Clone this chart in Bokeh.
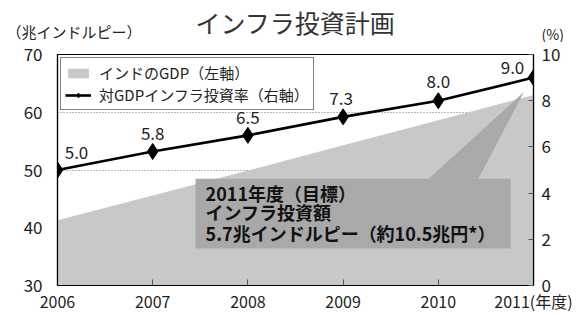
from bokeh.plotting import figure
from bokeh.layouts import column
from bokeh.models import (Range1d, LinearAxis, Label, BoxAnnotation, PolyAnnotation,
                          Legend, LegendItem, ColumnDataSource, FixedTicker)
from bokeh.embed import file_html
from bokeh.resources import INLINE
from bokeh.core.properties import value

# ---------------- data ----------------
years = [2006, 2007, 2008, 2009, 2010, 2011]
year_labels = ["2006", "2007", "2008", "2009", "2010", "2011(年度)"]
gdp = [41.3, 45.6, 49.9, 54.3, 58.6, 63.0]          # 兆インドルピー (left axis)
infra_rate = [5.0, 5.8, 6.5, 7.3, 8.0, 9.0]         # % of GDP (right axis)
rate_labels = ["5.0", "5.8", "6.5", "7.3", "8.0", "9.0"]
left_ticks = [30, 40, 50, 60, 70]
right_ticks = [0, 2, 4, 6, 8, 10]
grid_ticks = [40, 50, 60]

title_text = "インフラ投資計画"
left_unit = "（兆インドルピー）"
right_unit = "(%)"
legend_gdp = "インドのGDP（左軸）"
legend_rate = "対GDPインフラ投資率（右軸）"
callout_lines = ["2011年度（目標）", "インフラ投資額", "5.7兆インドルピー（約10.5兆円*）"]

# ---------------- styling ----------------
FONT = "Noto Sans CJK JP"
AREA = "#c8c8c8"
BOX = "#a9a9a9"
TXT = "#222222"
label_dx = [19, 0, 0, -2, 0, -21]
label_dy = [-18, -18, -18, -18, -19, -10]

W = 580
HEAD_H = 42
MAIN_H = 315 - HEAD_H

# ---------------- header (title + unit labels) ----------------
head = figure(width=W, height=HEAD_H, output_backend="svg", toolbar_location=None,
              x_range=Range1d(0, W), y_range=Range1d(HEAD_H, 0),
              x_axis_type=None, y_axis_type=None, min_border=0)
try:
    head.frame_align = False
except Exception:
    pass
head.outline_line_color = None
head.background_fill_color = "white"
head.border_fill_color = "white"
head.add_layout(Label(x=295, y=21, text=title_text, text_font=FONT, text_font_size="25px",
                      text_color="#333333", text_align="center", text_baseline="middle"))
head.add_layout(Label(x=6, y=31, text=left_unit, text_font=FONT, text_font_size="15px",
                      text_color=TXT, text_align="left", text_baseline="middle"))
head.add_layout(Label(x=541, y=33, text=right_unit, text_font=FONT, text_font_size="14px",
                      text_color=TXT, text_align="left", text_baseline="middle"))

# ---------------- main chart ----------------
p = figure(width=W, height=MAIN_H, output_backend="svg", toolbar_location=None,
           x_range=Range1d(years[0], years[-1]), y_range=Range1d(left_ticks[0], left_ticks[-1]),
           min_border_left=57, min_border_right=47, min_border_top=12, min_border_bottom=26)
try:
    p.frame_align = False
except Exception:
    pass
p.extra_y_ranges = {"pct": Range1d(right_ticks[0], right_ticks[-1])}
p.background_fill_color = "white"
p.border_fill_color = "white"
p.outline_line_color = "black"
p.outline_line_width = 1.2

p.xgrid.visible = False
p.ygrid.ticker = FixedTicker(ticks=grid_ticks)
p.ygrid.grid_line_color = "#777777"
p.ygrid.grid_line_dash = "1 2"
p.ygrid.grid_line_width = 1

ya = p.yaxis[0]
ya.ticker = FixedTicker(ticks=left_ticks)
ya.major_tick_in = 0
ya.major_tick_out = 0
ya.minor_tick_in = 0
ya.minor_tick_out = 0
ya.axis_line_color = "black"
ya.axis_line_width = 1.2
ya.major_label_standoff = 15
ya.major_label_text_font = FONT
ya.major_label_text_font_size = "17px"
ya.major_label_text_color = TXT

xa = p.xaxis[0]
xa.ticker = FixedTicker(ticks=years)
xa.major_label_overrides = {y: l for y, l in zip(years, year_labels)}
xa.major_tick_in = 6
xa.major_tick_out = 0
xa.minor_tick_in = 0
xa.minor_tick_out = 0
xa.major_tick_line_color = "#555555"
xa.axis_line_color = "black"
xa.axis_line_width = 1.2
xa.major_label_standoff = 3
xa.major_label_text_font = FONT
xa.major_label_text_font_size = "16px"
xa.major_label_text_color = TXT

ra = LinearAxis(y_range_name="pct", ticker=FixedTicker(ticks=right_ticks))
ra.major_tick_in = 5
ra.major_tick_out = 0
ra.minor_tick_in = 0
ra.minor_tick_out = 0
ra.major_tick_line_color = "#555555"
ra.axis_line_color = "black"
ra.axis_line_width = 1.2
ra.major_label_standoff = 8
ra.major_label_text_font = FONT
ra.major_label_text_font_size = "17px"
ra.major_label_text_color = TXT
p.add_layout(ra, "right")

src = ColumnDataSource(dict(year=years, gdp=gdp, rate=infra_rate, lab=rate_labels,
                            dx=label_dx, dy=label_dy))

area = p.varea(x="year", y1=left_ticks[0], y2="gdp", source=src, fill_color=AREA)

# callout box + pointer
p.add_layout(BoxAnnotation(left=2007.45, right=2010.76, bottom=36.4, top=48.5,
                           fill_color=BOX, fill_alpha=1, line_color=None))
p.add_layout(PolyAnnotation(xs=[2009.9, 2010.42, 2010.9], ys=[48.5, 48.5, 63.5],
                            fill_color=BOX, fill_alpha=1, line_color=None))
for txt, yy in zip(callout_lines, [46.1, 42.8, 39.1]):
    p.add_layout(Label(x=2007.555, y=yy, text=txt, text_font=FONT, text_font_size="18px",
                       text_font_style="bold", text_color="#111111", text_baseline="middle",
                       text_align="left"))

line = p.line(x="year", y="rate", source=src, y_range_name="pct", line_color="black", line_width=2.6)
dots = p.scatter(x="year", y="rate", source=src, y_range_name="pct", marker="diamond",
                 size=16, fill_color="black", line_color="black")
p.text(x="year", y="rate", text="lab", source=src, y_range_name="pct", x_offset="dx", y_offset="dy",
       text_font=value(FONT), text_font_size="17px", text_color=TXT,
       text_align="center", text_baseline="middle")

legend = Legend(items=[LegendItem(label=legend_gdp, renderers=[area]),
                       LegendItem(label=legend_rate, renderers=[line, dots])],
                location="top_left")
legend.margin = 3
legend.padding = 4
legend.spacing = 1
legend.label_height = 19
legend.glyph_width = 26
legend.glyph_height = 12
legend.label_standoff = 8
legend.border_line_color = "black"
legend.border_line_width = 1
legend.background_fill_color = "white"
legend.background_fill_alpha = 1
legend.label_text_font = FONT
legend.label_text_font_size = "15px"
legend.label_text_line_height = 1.0
legend.label_text_color = TXT
p.add_layout(legend)

open("out.html", "w").write(file_html(column(head, p), INLINE))
